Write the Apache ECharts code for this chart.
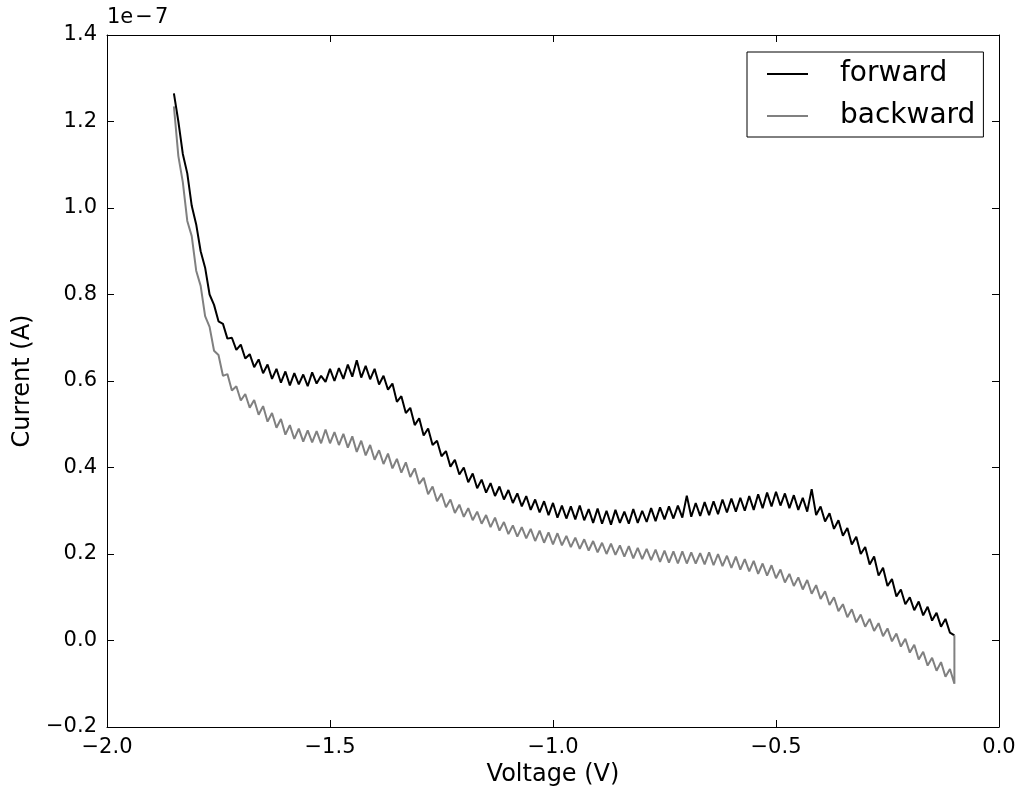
<!DOCTYPE html>
<html>
<head>
<meta charset="utf-8">
<script src="https://cdn.jsdelivr.net/npm/echarts@6/dist/echarts.min.js"></script>
<style>
  html, body { margin: 0; padding: 0; background: #fff; }
  #chart { width: 1029px; height: 792px; }
</style>
</head>
<body>
<div id="chart"></div>
<script>
// voltage sweep (V)
const voltage = [
  -1.85, -1.84, -1.83, -1.82, -1.81, -1.80, -1.79, -1.78, -1.77, -1.76,
  -1.75, -1.74, -1.73, -1.72, -1.71, -1.70, -1.69, -1.68, -1.67, -1.66,
  -1.65, -1.64, -1.63, -1.62, -1.61, -1.60, -1.59, -1.58, -1.57, -1.56,
  -1.55, -1.54, -1.53, -1.52, -1.51, -1.50, -1.49, -1.48, -1.47, -1.46,
  -1.45, -1.44, -1.43, -1.42, -1.41, -1.40, -1.39, -1.38, -1.37, -1.36,
  -1.35, -1.34, -1.33, -1.32, -1.31, -1.30, -1.29, -1.28, -1.27, -1.26,
  -1.25, -1.24, -1.23, -1.22, -1.21, -1.20, -1.19, -1.18, -1.17, -1.16,
  -1.15, -1.14, -1.13, -1.12, -1.11, -1.10, -1.09, -1.08, -1.07, -1.06,
  -1.05, -1.04, -1.03, -1.02, -1.01, -1.00, -0.99, -0.98, -0.97, -0.96,
  -0.95, -0.94, -0.93, -0.92, -0.91, -0.90, -0.89, -0.88, -0.87, -0.86,
  -0.85, -0.84, -0.83, -0.82, -0.81, -0.80, -0.79, -0.78, -0.77, -0.76,
  -0.75, -0.74, -0.73, -0.72, -0.71, -0.70, -0.69, -0.68, -0.67, -0.66,
  -0.65, -0.64, -0.63, -0.62, -0.61, -0.60, -0.59, -0.58, -0.57, -0.56,
  -0.55, -0.54, -0.53, -0.52, -0.51, -0.50, -0.49, -0.48, -0.47, -0.46,
  -0.45, -0.44, -0.43, -0.42, -0.41, -0.40, -0.39, -0.38, -0.37, -0.36,
  -0.35, -0.34, -0.33, -0.32, -0.31, -0.30, -0.29, -0.28, -0.27, -0.26,
  -0.25, -0.24, -0.23, -0.22, -0.21, -0.20, -0.19, -0.18, -0.17, -0.16,
  -0.15, -0.14, -0.13, -0.12, -0.11, -0.10
]

// current, units of 1e-7 A
const forward = [
  1.265, 1.200, 1.125, 1.080, 1.005, 0.962, 0.900, 0.862, 0.800, 0.776,
  0.738, 0.732, 0.698, 0.700, 0.672, 0.684, 0.652, 0.662, 0.632, 0.650,
  0.618, 0.638, 0.605, 0.628, 0.596, 0.622, 0.590, 0.618, 0.592, 0.615,
  0.588, 0.620, 0.594, 0.612, 0.598, 0.628, 0.600, 0.630, 0.605, 0.638,
  0.610, 0.648, 0.608, 0.635, 0.604, 0.628, 0.592, 0.612, 0.580, 0.594,
  0.552, 0.565, 0.526, 0.538, 0.498, 0.514, 0.474, 0.490, 0.452, 0.462,
  0.426, 0.438, 0.402, 0.418, 0.384, 0.400, 0.366, 0.386, 0.352, 0.372,
  0.342, 0.364, 0.334, 0.356, 0.326, 0.348, 0.318, 0.340, 0.310, 0.334,
  0.302, 0.326, 0.296, 0.322, 0.290, 0.318, 0.284, 0.312, 0.282, 0.310,
  0.280, 0.312, 0.278, 0.304, 0.272, 0.305, 0.270, 0.300, 0.268, 0.302,
  0.272, 0.298, 0.270, 0.304, 0.272, 0.300, 0.274, 0.306, 0.276, 0.308,
  0.280, 0.310, 0.282, 0.312, 0.284, 0.335, 0.286, 0.318, 0.288, 0.320,
  0.290, 0.322, 0.292, 0.326, 0.296, 0.328, 0.298, 0.330, 0.300, 0.334,
  0.302, 0.338, 0.306, 0.342, 0.310, 0.344, 0.312, 0.340, 0.306, 0.336,
  0.302, 0.330, 0.298, 0.350, 0.290, 0.310, 0.275, 0.294, 0.258, 0.278,
  0.242, 0.260, 0.222, 0.240, 0.200, 0.216, 0.176, 0.194, 0.150, 0.168,
  0.126, 0.142, 0.102, 0.118, 0.084, 0.100, 0.070, 0.090, 0.058, 0.078,
  0.046, 0.064, 0.032, 0.050, 0.018, 0.012
]

const backward = [
  1.235, 1.120, 1.060, 0.970, 0.935, 0.855, 0.820, 0.750, 0.725, 0.670,
  0.660, 0.612, 0.616, 0.578, 0.588, 0.555, 0.570, 0.538, 0.556, 0.522,
  0.542, 0.506, 0.526, 0.492, 0.512, 0.476, 0.498, 0.466, 0.490, 0.460,
  0.486, 0.458, 0.484, 0.456, 0.488, 0.456, 0.482, 0.452, 0.478, 0.446,
  0.472, 0.436, 0.462, 0.428, 0.452, 0.418, 0.440, 0.408, 0.432, 0.398,
  0.420, 0.388, 0.412, 0.378, 0.398, 0.362, 0.376, 0.338, 0.356, 0.322,
  0.340, 0.308, 0.326, 0.295, 0.314, 0.286, 0.306, 0.278, 0.298, 0.270,
  0.290, 0.262, 0.284, 0.254, 0.274, 0.246, 0.266, 0.240, 0.262, 0.236,
  0.258, 0.230, 0.254, 0.226, 0.250, 0.222, 0.248, 0.220, 0.242, 0.216,
  0.238, 0.212, 0.234, 0.208, 0.230, 0.204, 0.226, 0.200, 0.224, 0.198,
  0.220, 0.194, 0.218, 0.190, 0.214, 0.188, 0.212, 0.186, 0.210, 0.182,
  0.208, 0.180, 0.206, 0.178, 0.206, 0.178, 0.204, 0.178, 0.202, 0.176,
  0.204, 0.174, 0.200, 0.172, 0.196, 0.168, 0.194, 0.164, 0.188, 0.160,
  0.184, 0.154, 0.178, 0.150, 0.174, 0.144, 0.164, 0.134, 0.154, 0.126,
  0.146, 0.118, 0.140, 0.108, 0.128, 0.096, 0.114, 0.082, 0.100, 0.068,
  0.084, 0.054, 0.072, 0.042, 0.060, 0.032, 0.050, 0.022, 0.040, 0.010,
  0.028, -0.002, 0.016, -0.014, 0.004, -0.028, -0.010, -0.044, -0.026, -0.058,
  -0.040, -0.070, -0.050, -0.084, -0.066, -0.100
]

const xTicks = { min: -2.0, max: 0.0, step: 0.5 }
const yTicks = { min: -0.2, max: 1.4, step: 0.2 }

const FONT = 'DejaVu Sans'
const fmt = (v) => (v < -1e-9 ? '\u2212' : '') + Math.abs(v).toFixed(1)

const fwdData = voltage.map((v, i) => [v, forward[i]])
// backward sweep starts where forward ends
const bwdData = voltage.map((v, i) => [v, backward[i]])
bwdData.push([voltage[voltage.length - 1], forward[forward.length - 1]])

const axisCommon = {
  type: 'value',
  axisLine: { show: true, onZero: false, lineStyle: { color: '#000', width: 1 } },
  axisTick: { show: true, inside: true, length: 7, lineStyle: { color: '#000', width: 1 } },
  splitLine: { show: false }
}

const myChart = echarts.init(document.getElementById('chart'))
myChart.setOption({
  animation: false,
  backgroundColor: '#fff',
  grid: { left: 107, right: 30, top: 35, bottom: 65, show: false },
  xAxis: [
    {
      ...axisCommon,
      position: 'bottom',
      min: xTicks.min, max: xTicks.max, interval: xTicks.step,
      name: 'Voltage (V)',
      nameLocation: 'middle',
      nameGap: 36,
      nameTextStyle: { color: '#000', fontFamily: FONT, fontSize: 24 },
      axisLabel: { color: '#000', fontFamily: FONT, fontSize: 21, margin: 10, formatter: fmt }
    },
    {
      ...axisCommon,
      position: 'top',
      min: xTicks.min, max: xTicks.max, interval: xTicks.step,
      axisLabel: { show: false }
    }
  ],
  yAxis: [
    {
      ...axisCommon,
      position: 'left',
      min: yTicks.min, max: yTicks.max, interval: yTicks.step,
      name: 'Current (A)',
      nameLocation: 'middle',
      nameGap: 72,
      nameTextStyle: { color: '#000', fontFamily: FONT, fontSize: 24 },
      axisLabel: { color: '#000', fontFamily: FONT, fontSize: 21, margin: 10, padding: [5, 0, 0, 0], formatter: fmt }
    },
    {
      ...axisCommon,
      position: 'right',
      min: yTicks.min, max: yTicks.max, interval: yTicks.step,
      axisLabel: { show: false }
    }
  ],
  legend: {
    orient: 'vertical',
    left: 747,
    top: 52,
    backgroundColor: '#fff',
    borderColor: '#000',
    borderWidth: 1,
    borderRadius: 0,
    padding: [7, 8, 6, 20],
    itemGap: 12,
    itemWidth: 41,
    itemHeight: 2,
    icon: 'rect',
    textStyle: { color: '#000', fontFamily: FONT, fontSize: 28, lineHeight: 30, padding: [0, 0, 0, 27] },
    data: ['forward', 'backward']
  },
  graphic: [
    {
      type: 'text',
      left: 107,
      top: 7,
      style: { text: '1e\u200a\u2212\u200a7', fill: '#000', font: '21px "DejaVu Sans"' }
    }
  ],
  series: [
    {
      name: 'forward',
      type: 'line',
      data: fwdData,
      symbol: 'none',
      lineStyle: { color: '#000', width: 2 },
      itemStyle: { color: '#000' }
    },
    {
      name: 'backward',
      type: 'line',
      data: bwdData,
      symbol: 'none',
      lineStyle: { color: '#808080', width: 2 },
      itemStyle: { color: '#808080' }
    }
  ]
})
</script>
</body>
</html>
